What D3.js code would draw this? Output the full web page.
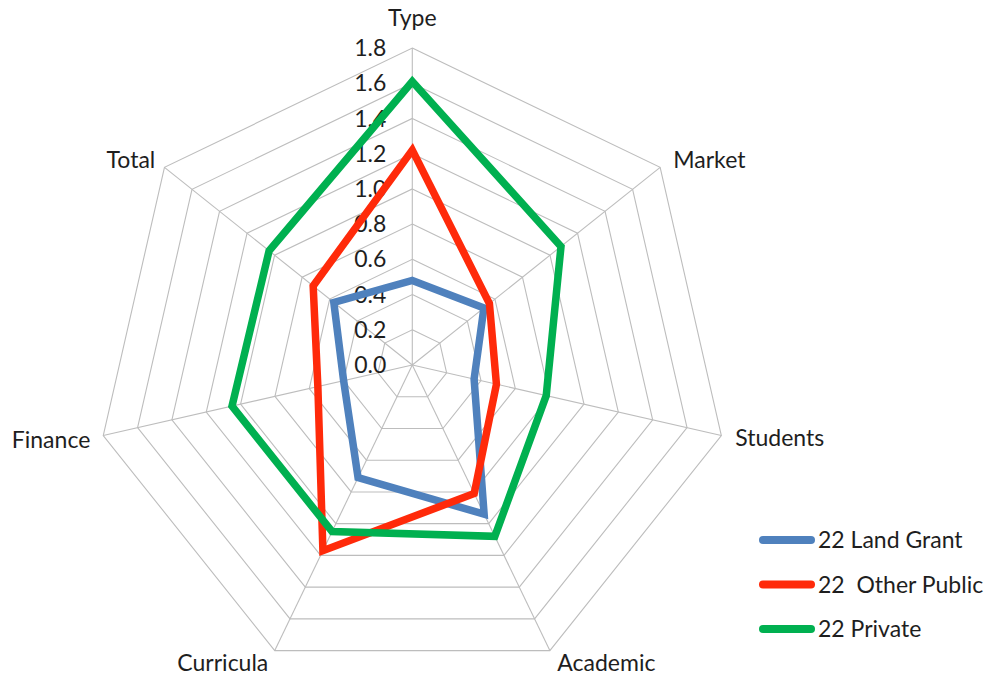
<!DOCTYPE html>
<html>
<head>
<meta charset="utf-8">
<script src="https://cdn.jsdelivr.net/npm/d3@7"></script>
<style>
  html, body { margin: 0; padding: 0; background: #fff; }
  svg { display: block; }
  text { font-family: Lato, "Open Sans", sans-serif; fill: #1e1e1e; }
</style>
</head>
<body>
<svg id="chart" width="990" height="677"></svg>
<script>
const categories = ["Type", "Market", "Students", "Academic", "Curricula", "Finance", "Total"];
const seriesNames = ["22 Land Grant", "22  Other Public", "22 Private"];
const landGrant   = [0.48, 0.52, 0.36, 0.94, 0.71, 0.40, 0.57];
const otherPublic = [1.22, 0.56, 0.49, 0.81, 1.17, 0.55, 0.72];
const privateVals = [1.61, 1.08, 0.78, 1.08, 1.05, 1.05, 1.04];
const tickValues  = [0.0, 0.2, 0.4, 0.6, 0.8, 1.0, 1.2, 1.4, 1.6, 1.8];
const colors = ["#4F81BD", "#FF2A0A", "#00B050"];

const svg = d3.select("#chart");
const cx = 412.3, cy = 365, R = 317;
const n = categories.length;
const r = d3.scaleLinear().domain([0, 1.8]).range([0, R]);
const angle = d3.scaleLinear().domain([0, n]).range([0, 2 * Math.PI]);

const g = svg.append("g").attr("transform", `translate(${cx},${cy})`);

function pt(i, v) {
  const a = angle(i);
  return [Math.sin(a) * r(v), -Math.cos(a) * r(v)];
}

// grid rings
const rings = tickValues.slice(1);
g.selectAll("polygon.ring").data(rings).enter().append("polygon")
  .attr("class", "ring")
  .attr("points", v => d3.range(n).map(i => pt(i, v).join(",")).join(" "))
  .attr("fill", "none").attr("stroke", "#BDBDBD").attr("stroke-width", 1.1);

// spokes
g.selectAll("line.spoke").data(d3.range(n)).enter().append("line")
  .attr("class", "spoke")
  .attr("x1", 0).attr("y1", 0)
  .attr("x2", i => pt(i, 1.8)[0]).attr("y2", i => pt(i, 1.8)[1])
  .attr("stroke", "#BDBDBD").attr("stroke-width", 1.1);

// tick labels
g.selectAll("text.tick").data(tickValues).enter().append("text")
  .attr("class", "tick")
  .attr("x", -26).attr("y", v => -r(v))
  .attr("dy", "0.35em")
  .attr("text-anchor", "end")
  .attr("font-size", 23)
  .text(v => d3.format(".1f")(v));

// category labels
const labelPos = [
  {x: 0, y: -347, anchor: "middle"},
  {x: 261, y: -205, anchor: "start"},
  {x: 323, y: 73, anchor: "start"},
  {x: 145, y: 298, anchor: "start"},
  {x: -144, y: 298, anchor: "end"},
  {x: -322, y: 75, anchor: "end"},
  {x: -257, y: -205, anchor: "end"}
];
g.selectAll("text.cat").data(categories).enter().append("text")
  .attr("class", "cat")
  .attr("x", (d, i) => labelPos[i].x)
  .attr("y", (d, i) => labelPos[i].y)
  .attr("dy", "0.35em")
  .attr("text-anchor", (d, i) => labelPos[i].anchor)
  .attr("font-size", 23)
  .text(d => d);

// series
const allSeries = [landGrant, otherPublic, privateVals];
const line = d3.line().curve(d3.curveLinearClosed);
g.selectAll("path.series").data(allSeries).enter().append("path")
  .attr("class", "series")
  .attr("d", vals => line(vals.map((v, i) => pt(i, v))))
  .attr("fill", "none")
  .attr("stroke", (d, i) => colors[i])
  .attr("stroke-width", 7.5)
  .attr("stroke-linejoin", "miter");

// legend
const legend = svg.append("g").attr("transform", "translate(759,540)");
const items = legend.selectAll("g").data(seriesNames).enter().append("g")
  .attr("transform", (d, i) => `translate(0,${i * 44.5})`);
items.append("line")
  .attr("x1", 4).attr("x2", 52).attr("y1", 0).attr("y2", 0)
  .attr("stroke", (d, i) => colors[i]).attr("stroke-width", 8)
  .attr("stroke-linecap", "round");
items.append("text")
  .attr("x", 59).attr("y", 0).attr("dy", "0.35em")
  .attr("font-size", 23)
  .style("white-space", "pre")
  .attr("xml:space", "preserve")
  .text(d => d);
</script>
</body>
</html>
